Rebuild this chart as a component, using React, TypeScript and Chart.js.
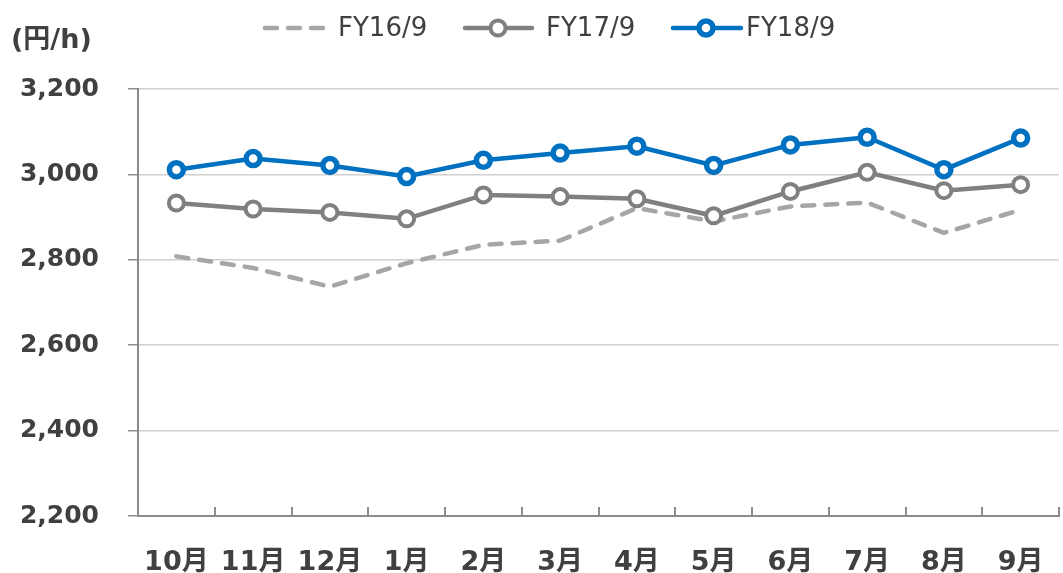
import React, { useEffect, useRef } from "react";
import { Chart, registerables } from "chart.js";

Chart.register(...registerables);

const categories = ["10月", "11月", "12月", "1月", "2月", "3月", "4月", "5月", "6月", "7月", "8月", "9月"];
const fy16 = [2808, 2781, 2737, 2792, 2835, 2845, 2921, 2890, 2925, 2934, 2863, 2917];
const fy17 = [2933, 2919, 2911, 2896, 2952, 2948, 2943, 2903, 2960, 3005, 2962, 2976];
const fy18 = [3011, 3037, 3021, 2995, 3033, 3050, 3066, 3021, 3069, 3087, 3011, 3085];
const seriesNames = ["FY16/9", "FY17/9", "FY18/9"];
const yMin = 2200;
const yMax = 3200;
const yStep = 200;
const yUnit = "(円/h)";

const FONT = "'DejaVu Sans', 'Noto Sans CJK JP', sans-serif";
const TEXT = "#404040";
const C16 = "#A6A6A6";
const C17 = "#808080";
const C18 = "#0070C0";
const AXIS = "#8C8C8C";

const overlayPlugin = {
  id: "overlay",
  afterDraw(chart: any) {
    const ctx = chart.ctx;
    const xs = chart.scales.x;
    const area = chart.chartArea;
    ctx.save();
    // inner x tick marks between categories
    ctx.strokeStyle = AXIS;
    ctx.lineWidth = 2;
    for (let i = 1; i <= categories.length; i++) {
      const px = Math.round(xs.getPixelForValue(i - 0.5));
      ctx.beginPath();
      ctx.moveTo(px, area.bottom);
      ctx.lineTo(px, area.bottom - 9);
      ctx.stroke();
    }
    // y unit
    ctx.fillStyle = TEXT;
    ctx.font = "bold 27px " + FONT;
    ctx.textAlign = "left";
    ctx.textBaseline = "alphabetic";
    ctx.fillText(yUnit, 11, 48);

    // legend
    const ly = 28;
    ctx.font = "26px " + FONT;
    ctx.lineCap = "round";
    // FY16
    ctx.strokeStyle = C16;
    ctx.lineWidth = 4.5;
    ctx.setLineDash([12, 11]);
    ctx.beginPath();
    ctx.moveTo(265, ly);
    ctx.lineTo(326, ly);
    ctx.stroke();
    ctx.setLineDash([]);
    ctx.fillStyle = TEXT;
    ctx.fillText(seriesNames[0], 338, 36);
    // FY17
    ctx.strokeStyle = C17;
    ctx.lineWidth = 4.5;
    ctx.beginPath();
    ctx.moveTo(465, ly);
    ctx.lineTo(532, ly);
    ctx.stroke();
    ctx.fillStyle = "#fff";
    ctx.lineWidth = 4;
    ctx.beginPath();
    ctx.arc(498, ly, 7.5, 0, Math.PI * 2);
    ctx.fill();
    ctx.stroke();
    ctx.fillStyle = TEXT;
    ctx.fillText(seriesNames[1], 546, 36);
    // FY18
    ctx.strokeStyle = C18;
    ctx.lineWidth = 4.5;
    ctx.beginPath();
    ctx.moveTo(673, ly);
    ctx.lineTo(741, ly);
    ctx.stroke();
    ctx.fillStyle = "#fff";
    ctx.lineWidth = 5.5;
    ctx.beginPath();
    ctx.arc(706, ly, 7, 0, Math.PI * 2);
    ctx.fill();
    ctx.stroke();
    ctx.fillStyle = TEXT;
    ctx.fillText(seriesNames[2], 746, 36);
    ctx.restore();
  },
};

export default function App() {
  const ref = useRef<HTMLCanvasElement | null>(null);
  useEffect(() => {
    if (!ref.current) return;
    const chart = new Chart(ref.current, {
      type: "line",
      data: {
        labels: categories,
        datasets: [
          {
            label: seriesNames[0],
            data: fy16,
            borderColor: C16,
            borderWidth: 4.5,
            borderDash: [12, 11],
            borderCapStyle: "round",
            pointRadius: 0,
            pointHoverRadius: 0,
            tension: 0,
            order: 3,
          },
          {
            label: seriesNames[1],
            data: fy17,
            borderColor: C17,
            borderWidth: 4.5,
            pointRadius: 7.5,
            pointBorderWidth: 4,
            pointBackgroundColor: "#fff",
            pointBorderColor: C17,
            tension: 0,
            order: 2,
          },
          {
            label: seriesNames[2],
            data: fy18,
            borderColor: C18,
            borderWidth: 4.5,
            pointRadius: 7,
            pointBorderWidth: 5.5,
            pointBackgroundColor: "#fff",
            pointBorderColor: C18,
            tension: 0,
            order: 1,
          },
        ],
      },
      options: {
        responsive: false,
        animation: false,
        devicePixelRatio: 1,
        layout: { autoPadding: false, padding: { top: 89, right: 4, bottom: 0, left: 0 } },
        plugins: { legend: { display: false }, tooltip: { enabled: false } },
        scales: {
          x: {
            offset: true,
            grid: { display: false },
            border: { display: true, color: AXIS, width: 2 },
            ticks: {
              color: TEXT,
              font: { family: FONT, size: 27, weight: "bold" },
              padding: 23,
              maxRotation: 0,
              autoSkip: false,
            },
            afterFit: (s: any) => {
              s.height = 57;
              s.paddingRight = 0;
              s.paddingLeft = 0;
            },
          },
          y: {
            min: yMin,
            max: yMax,
            ticks: {
              stepSize: yStep,
              color: TEXT,
              font: { family: FONT, size: 25, weight: "bold" },
              padding: 29,
              callback: (v: any) => Number(v).toLocaleString("en-US"),
            },
            grid: { color: "#D0D0D0", lineWidth: 1.5, tickColor: AXIS, tickLength: 10 },
            border: { display: true, color: AXIS, width: 2 },
            afterFit: (s: any) => {
              s.width = 138;
              s.paddingTop = 0;
              s.paddingBottom = 0;
            },
          },
        },
      },
      plugins: [overlayPlugin],
    });
    return () => chart.destroy();
  }, []);
  return (
    <div style={{ position: "absolute", left: 0, top: 0, width: 1063, height: 573, background: "#fff" }}>
      <canvas ref={ref} width={1063} height={573} style={{ display: "block" }} />
    </div>
  );
}
